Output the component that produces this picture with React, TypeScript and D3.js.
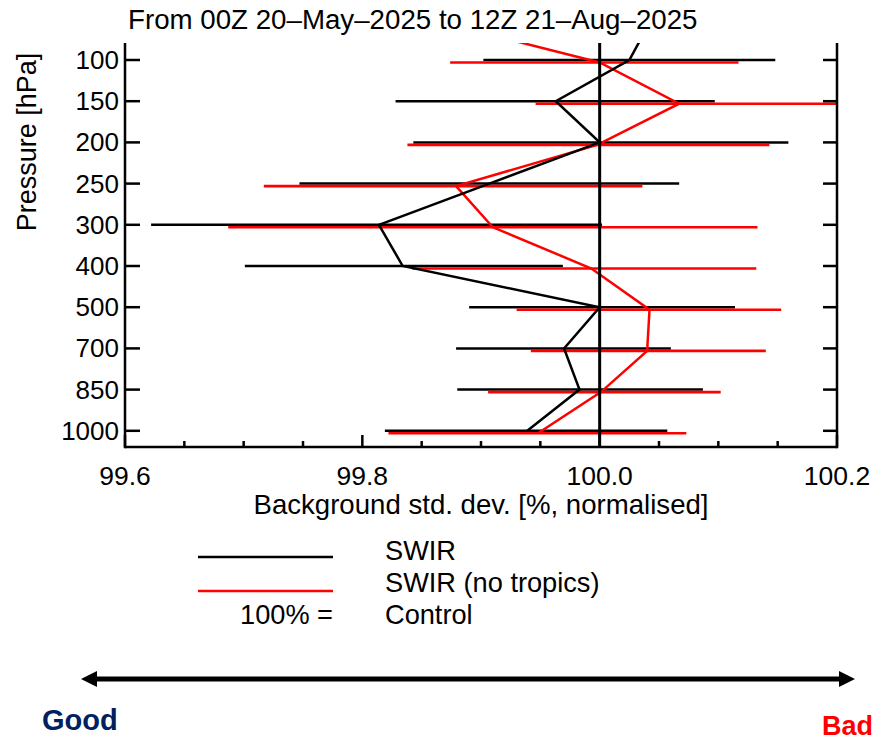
import React from "react";
import * as d3 from "d3";

// ---- data ----
const title = "From 00Z 20\u2013May\u20132025 to 12Z 21\u2013Aug\u20132025";
const levels = ["100", "150", "200", "250", "300", "400", "500", "700", "850", "1000"];
// level above the plotted range: only the start of its line segment shows (clipped)
const aboveLevel = "70";
const swirAbove = 100.044;
const swirNoTropAbove = 99.863;

const swirMean = [100.025, 99.963, 100.0, 99.907, 99.814, 99.834, 100.0, 99.97, 99.983, 99.939];
const swirLo = [99.902, 99.828, 99.843, 99.747, 99.622, 99.701, 99.89, 99.879, 99.88, 99.819];
const swirHi = [100.148, 100.097, 100.159, 100.067, 100.002, 99.969, 100.114, 100.06, 100.087, 100.057];

const noTropMean = [100.0, 100.067, 99.998, 99.879, 99.91, 99.993, 100.042, 100.04, 100.001, 99.948];
const noTropLo = [99.874, 99.946, 99.838, 99.717, 99.687, 99.842, 99.93, 99.942, 99.906, 99.822];
const noTropHi = [100.117, 100.21, 100.143, 100.036, 100.133, 100.132, 100.153, 100.14, 100.102, 100.073];

const xMajorTicks = [99.6, 99.8, 100.0, 100.2];
const xMinorTicks = [99.65, 99.7, 99.75, 99.85, 99.9, 99.95, 100.05, 100.1, 100.15];
const xTickLabels = ["99.6", "99.8", "100.0", "100.2"];
const controlValue = 100.0;

const xLabel = "Background std. dev. [%, normalised]";
const yLabel = "Pressure [hPa]";
const legendItems = ["SWIR", "SWIR (no tropics)"];
const legendColors = ["#000000", "#ff0000"];
const controlLeft = "100% =";
const controlRight = "Control";
const goodLabel = "Good";
const badLabel = "Bad";

// ---- layout ----
const W = 877;
const H = 741;
const left = 125;
const right = 837;
const top = 43;
const bottom = 447;
const FONT = "'Liberation Sans', Arial, Helvetica, sans-serif";

export default function App() {
  const x = d3.scaleLinear().domain([99.6, 100.2]).range([left, right]);
  const yIdx = d3.scaleLinear().domain([0, levels.length - 1]).range([60, 430.8]);
  const y = (lvl: string) => (lvl === aboveLevel ? yIdx(-1) : yIdx(levels.indexOf(lvl)));
  const redOff = 2.5;

  const line = d3
    .line<[string, number]>()
    .x((d) => x(d[1]))
    .y((d) => y(d[0]));

  const blackPts: [string, number][] = [[aboveLevel, swirAbove], ...levels.map((l, i) => [l, swirMean[i]] as [string, number])];
  const redPts: [string, number][] = [[aboveLevel, swirNoTropAbove], ...levels.map((l, i) => [l, noTropMean[i]] as [string, number])];

  return (
    <svg
      width={W}
      height={H}
      style={{ position: "absolute", left: 0, top: 0, background: "#fff" }}
      fontFamily={FONT}
    >
      <defs>
        <clipPath id="plotclip">
          <rect x={left} y={top} width={right - left} height={bottom - top} />
        </clipPath>
      </defs>
      <rect x={0} y={0} width={W} height={H} fill="#fff" />

      {/* title */}
      <text x={128} y={29} fontSize={27.7} fill="#000">
        {title}
      </text>

      <g clipPath="url(#plotclip)">
        {/* SWIR error bars */}
        {levels.map((l, i) => (
          <line key={"bb" + l} x1={x(swirLo[i])} x2={x(swirHi[i])} y1={y(l)} y2={y(l)} stroke="#000" strokeWidth={2.5} />
        ))}
        {/* no tropics error bars */}
        {levels.map((l, i) => (
          <line
            key={"rb" + l}
            x1={x(noTropLo[i])}
            x2={x(noTropHi[i])}
            y1={y(l) + redOff}
            y2={y(l) + redOff}
            stroke="#ff0000"
            strokeWidth={2.6}
          />
        ))}
        <path d={line(redPts) || ""} transform={`translate(0,${redOff})`} fill="none" stroke="#ff0000" strokeWidth={2.5} />
        <path d={line(blackPts) || ""} fill="none" stroke="#000" strokeWidth={2.5} />
      </g>

      {/* control line */}
      <line x1={x(controlValue)} x2={x(controlValue)} y1={top} y2={bottom} stroke="#000" strokeWidth={3} />

      {/* frame */}
      <line x1={left} x2={left} y1={top} y2={bottom + 1.25} stroke="#000" strokeWidth={2.5} />
      <line x1={right} x2={right} y1={top} y2={bottom + 1.25} stroke="#000" strokeWidth={2.5} />
      <line x1={left} x2={right} y1={bottom} y2={bottom} stroke="#000" strokeWidth={2.5} />

      {/* y ticks and labels */}
      {levels.map((l) => (
        <g key={"yt" + l}>
          <line x1={left} x2={left + 15} y1={y(l)} y2={y(l)} stroke="#000" strokeWidth={2.5} />
          <line x1={right - 14} x2={right} y1={y(l)} y2={y(l)} stroke="#000" strokeWidth={2.5} />
          <text x={119} y={y(l) + 9} fontSize={26} textAnchor="end" fill="#000">
            {l}
          </text>
        </g>
      ))}

      {/* x ticks */}
      {xMajorTicks.map((v) => (
        <line key={"xM" + v} x1={x(v)} x2={x(v)} y1={bottom} y2={bottom - 12} stroke="#000" strokeWidth={2.5} />
      ))}
      {xMinorTicks.map((v) => (
        <line key={"xm" + v} x1={x(v)} x2={x(v)} y1={bottom} y2={bottom - 6} stroke="#000" strokeWidth={2.5} />
      ))}
      {xMajorTicks.map((v, i) => (
        <text key={"xl" + v} x={x(v)} y={485} fontSize={26.5} textAnchor="middle" fill="#000">
          {xTickLabels[i]}
        </text>
      ))}

      {/* axis labels */}
      <text x={(left + right) / 2} y={514} fontSize={27.6} textAnchor="middle" fill="#000">
        {xLabel}
      </text>
      <text transform={`translate(36,142) rotate(-90)`} fontSize={27} textAnchor="middle" fill="#000">
        {yLabel}
      </text>

      {/* legend */}
      {legendItems.map((t, i) => (
        <g key={"lg" + t}>
          <line x1={198} x2={333} y1={557 + i * 34} y2={557 + i * 34} stroke={legendColors[i]} strokeWidth={2.6} />
          <text x={385} y={560 + i * 32} fontSize={27.2} fill="#000">
            {t}
          </text>
        </g>
      ))}
      <text x={333} y={624} fontSize={27.2} textAnchor="end" fill="#000">
        {controlLeft}
      </text>
      <text x={385} y={624} fontSize={27.2} fill="#000">
        {controlRight}
      </text>

      {/* good / bad arrow */}
      <line x1={95} x2={841} y1={679} y2={679} stroke="#000" strokeWidth={5} />
      <polygon points="81,679 97,671 97,687" fill="#000" />
      <polygon points="855,679 839,671 839,687" fill="#000" />
      <text x={42} y={730} fontSize={29} fontWeight="bold" fill="#002060">
        {goodLabel}
      </text>
      <text x={822} y={735} fontSize={27} fontWeight="bold" fill="#ff0000">
        {badLabel}
      </text>
    </svg>
  );
}
